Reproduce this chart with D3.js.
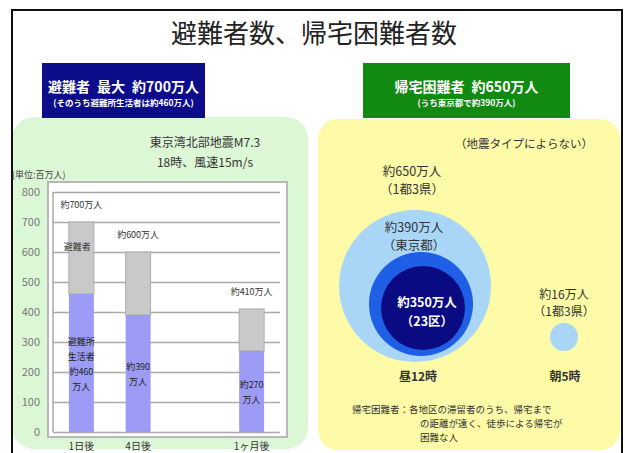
<!DOCTYPE html>
<html lang="ja">
  <head>
    <meta charset="utf-8">
    <title>避難者数、帰宅困難者数</title>
    <script type="text/javascript" src="https://cdn.jsdelivr.net/npm/d3@7"></script>
    <style>
    body { margin: 0; background: #fff; }
    svg text { font-family: "Noto Sans CJK JP", "Noto Sans", sans-serif; }
    .axis .domain { display: none; }
    </style>
  </head>
  <body>
    <div id="vis"></div>
    <script type="text/javascript">

      // bar chart data (万人)
      var categories = ["1日後", "4日後", "1ヶ月後"];
      var totals = [700, 600, 410];
      var shelter = [460, 390, 270];
      var totalLabels = ["約700万人", "約600万人", "約410万人"];
      var shelterLabels = [["避難所", "生活者", "約460", "万人"], ["約390", "万人"], ["約270", "万人"]];
      var yTicks = [0, 100, 200, 300, 400, 500, 600, 700, 800];

      // stranded commuters (万人)
      var noonValues = [650, 390, 350];
      var noonLabels = [["約650万人", "（1都3県）"], ["約390万人", "（東京都）"], ["約350万人", "（23区）"]];
      var morningValue = 16;
      var morningLabel = ["約16万人", "（1都3県）"];

      var W = 625, H = 453;
      var svg = d3.select("#vis").append("svg")
          .attr("width", W)
          .attr("height", H);

      // background panels
      svg.append("rect")
          .attr("x", 12).attr("y", 117).attr("width", 296).attr("height", 332).attr("rx", 22)
          .attr("fill", "#dcf7d6");
      svg.append("rect")
          .attr("x", 318).attr("y", 119).attr("width", 302).attr("height", 331).attr("rx", 20)
          .attr("fill", "#fdfaa8");

      // outer frame
      svg.append("rect")
          .attr("x", 12).attr("y", 10).attr("width", 610).attr("height", 460)
          .attr("fill", "none").attr("stroke", "#111").attr("stroke-width", 2);

      // title
      svg.append("text")
          .attr("x", 314).attr("y", 43)
          .attr("text-anchor", "middle")
          .attr("font-size", 26)
          .attr("fill", "#222")
          .text("避難者数、帰宅困難者数");

      // header boxes
      var boxes = [
        {x: 42, w: 163, fill: "#0d0d8c", main: "避難者\u2002最大\u2002約700万人", sub: "(そのうち避難所生活者は約460万人)"},
        {x: 363, w: 207, fill: "#128a12", main: "帰宅困難者\u2002約650万人", sub: "(うち東京都で約390万人)"}
      ];
      boxes.forEach(function(b) {
        svg.append("rect")
            .attr("x", b.x).attr("y", 63).attr("width", b.w).attr("height", 55)
            .attr("fill", b.fill);
        svg.append("text")
            .attr("x", b.x + b.w / 2).attr("y", 92)
            .attr("text-anchor", "middle")
            .attr("font-size", 14).attr("font-weight", "bold")
            .attr("fill", "#fff")
            .text(b.main);
        svg.append("text")
            .attr("x", b.x + b.w / 2).attr("y", 106)
            .attr("text-anchor", "middle")
            .attr("font-size", 8.5).attr("font-weight", "bold")
            .attr("fill", "#fff")
            .text(b.sub);
      });

      // ---------------- left: bar chart ----------------
      svg.append("text")
          .attr("x", 205).attr("y", 147)
          .attr("text-anchor", "middle").attr("font-size", 12).attr("fill", "#333")
          .text("東京湾北部地震M7.3");
      svg.append("text")
          .attr("x", 205).attr("y", 167)
          .attr("text-anchor", "middle").attr("font-size", 12).attr("fill", "#333")
          .text("18時、風速15m/s");
      svg.append("text")
          .attr("x", 12).attr("y", 178)
          .attr("font-size", 9).attr("fill", "#444")
          .text("(単位:百万人)");

      var plot = {left: 53, right: 280, top: 192, bottom: 432};

      // a spacer slot keeps the 1ヶ月後 bar further out
      var x = d3.scaleBand()
          .domain([categories[0], categories[1], " ", categories[2]])
          .range([plot.left, plot.right])
          .paddingInner(0.56)
          .paddingOuter(0.28);

      var y = d3.scaleLinear()
          .domain([0, 800])
          .range([plot.bottom, plot.top]);

      svg.append("rect")
          .attr("x", 48).attr("y", 182).attr("width", 239).attr("height", 255)
          .attr("fill", "#fff").attr("stroke", "#b8b8b8").attr("stroke-width", 2);

      var yAxis = d3.axisLeft(y)
          .tickValues(yTicks)
          .tickSize(-(plot.right - plot.left))
          .tickPadding(13);

      var gy = svg.append("g")
          .attr("class", "axis")
          .attr("transform", "translate(" + plot.left + ",0)")
          .call(yAxis);
      gy.selectAll(".tick line").attr("stroke", "#aaa").attr("stroke-width", 1.5);
      gy.selectAll(".tick text")
          .attr("font-family", "Liberation Sans, sans-serif")
          .attr("font-size", 11).attr("fill", "#777");

      svg.append("line")
          .attr("x1", plot.left).attr("x2", plot.left)
          .attr("y1", plot.top).attr("y2", plot.bottom)
          .attr("stroke", "#aaa").attr("stroke-width", 1.5);

      var xAxis = d3.axisBottom(x)
          .tickValues(categories)
          .tickSize(0)
          .tickPadding(11);

      var gx = svg.append("g")
          .attr("class", "axis")
          .attr("transform", "translate(0," + plot.bottom + ")")
          .call(xAxis);
      gx.selectAll(".tick text").attr("font-size", 10).attr("fill", "#333");

      var bars = categories.map(function(c, i) {
        return {cat: c, total: totals[i], shelter: shelter[i], label: totalLabels[i], inner: shelterLabels[i]};
      });

      var g = svg.selectAll(".bar")
          .data(bars)
          .enter().append("g")
          .attr("class", "bar");

      g.append("rect")
          .attr("x", function(d) { return x(d.cat); })
          .attr("y", function(d) { return y(d.total); })
          .attr("width", x.bandwidth())
          .attr("height", function(d) { return y(d.shelter) - y(d.total); })
          .attr("fill", "#c9c9c9").attr("stroke", "#aaa");

      g.append("rect")
          .attr("x", function(d) { return x(d.cat); })
          .attr("y", function(d) { return y(d.shelter); })
          .attr("width", x.bandwidth())
          .attr("height", function(d) { return y(0) - y(d.shelter); })
          .attr("fill", "#9c9cf6");

      g.append("text")
          .attr("x", function(d) { return x(d.cat) + x.bandwidth() / 2; })
          .attr("y", function(d) { return y(d.total) - 14; })
          .attr("text-anchor", "middle").attr("font-size", 9).attr("fill", "#333")
          .text(function(d) { return d.label; });

      g.filter(function(d, i) { return i === 0; })
        .append("text")
          .attr("x", function(d) { return x(d.cat) + x.bandwidth() / 2 - 4; })
          .attr("y", function(d) { return y(d.total) + 28; })
          .attr("text-anchor", "middle").attr("font-size", 9).attr("fill", "#333")
          .text("避難者");

      g.each(function(d) {
        var mid = (y(d.shelter) + y(0)) / 2;
        var n = d.inner.length;
        d3.select(this).selectAll(".inner")
            .data(d.inner)
            .enter().append("text")
            .attr("x", x(d.cat) + x.bandwidth() / 2)
            .attr("y", function(t, k) { return mid + (k - (n - 1) / 2) * 15 + 4; })
            .attr("text-anchor", "middle").attr("font-size", 9).attr("fill", "#222")
            .text(function(t) { return t; });
      });

      // ---------------- right: stranded commuters ----------------
      svg.append("text")
          .attr("x", 524).attr("y", 148)
          .attr("text-anchor", "middle").attr("font-size", 11.5).attr("fill", "#333")
          .text("（地震タイプによらない）");

      // the original graphic is not drawn to area scale, so a piecewise scale follows it
      var r = d3.scaleLinear()
          .domain([morningValue, noonValues[2], noonValues[1], noonValues[0]])
          .range([14, 42, 52, 76]);

      var circleFills = ["#a9d6f7", "#1e5fe6", "#0a0a82"];
      var baseY = 362;
      var cx = [415, 421, 423];

      noonValues.forEach(function(v, i) {
        svg.append("circle")
            .attr("cx", cx[i])
            .attr("cy", baseY - r(v) - i * 6)
            .attr("r", r(v))
            .attr("fill", circleFills[i]);
      });

      var labelY = [[176, 194], [232, 250], [307, 326]];
      var labelFill = ["#333", "#333", "#fff"];
      noonLabels.forEach(function(lines, i) {
        lines.forEach(function(t, k) {
          svg.append("text")
              .attr("x", [412, 414, 427][i]).attr("y", labelY[i][k])
              .attr("text-anchor", "middle")
              .attr("font-size", 12.5)
              .attr("font-weight", i === 2 ? "bold" : "normal")
              .attr("fill", labelFill[i])
              .text(t);
        });
      });

      svg.append("circle")
          .attr("cx", 564).attr("cy", 337)
          .attr("r", r(morningValue))
          .attr("fill", "#a9d6f7");

      morningLabel.forEach(function(t, k) {
        svg.append("text")
            .attr("x", 564).attr("y", 299 + k * 17)
            .attr("text-anchor", "middle").attr("font-size", 12).attr("fill", "#333")
            .text(t);
      });

      svg.append("text")
          .attr("x", 418).attr("y", 381)
          .attr("text-anchor", "middle").attr("font-size", 12).attr("font-weight", "bold").attr("fill", "#333")
          .text("昼12時");
      svg.append("text")
          .attr("x", 565).attr("y", 381)
          .attr("text-anchor", "middle").attr("font-size", 12).attr("font-weight", "bold").attr("fill", "#333")
          .text("朝5時");

      var note = ["帰宅困難者：各地区の滞留者のうち、帰宅まで", "の距離が遠く、徒歩による帰宅が", "困難な人"];
      note.forEach(function(t, k) {
        svg.append("text")
            .attr("x", k === 0 ? 352 : 420).attr("y", 413 + k * 14)
            .attr("font-size", 9.5).attr("fill", "#333")
            .text(t);
      });

    </script>
  </body>
</html>
